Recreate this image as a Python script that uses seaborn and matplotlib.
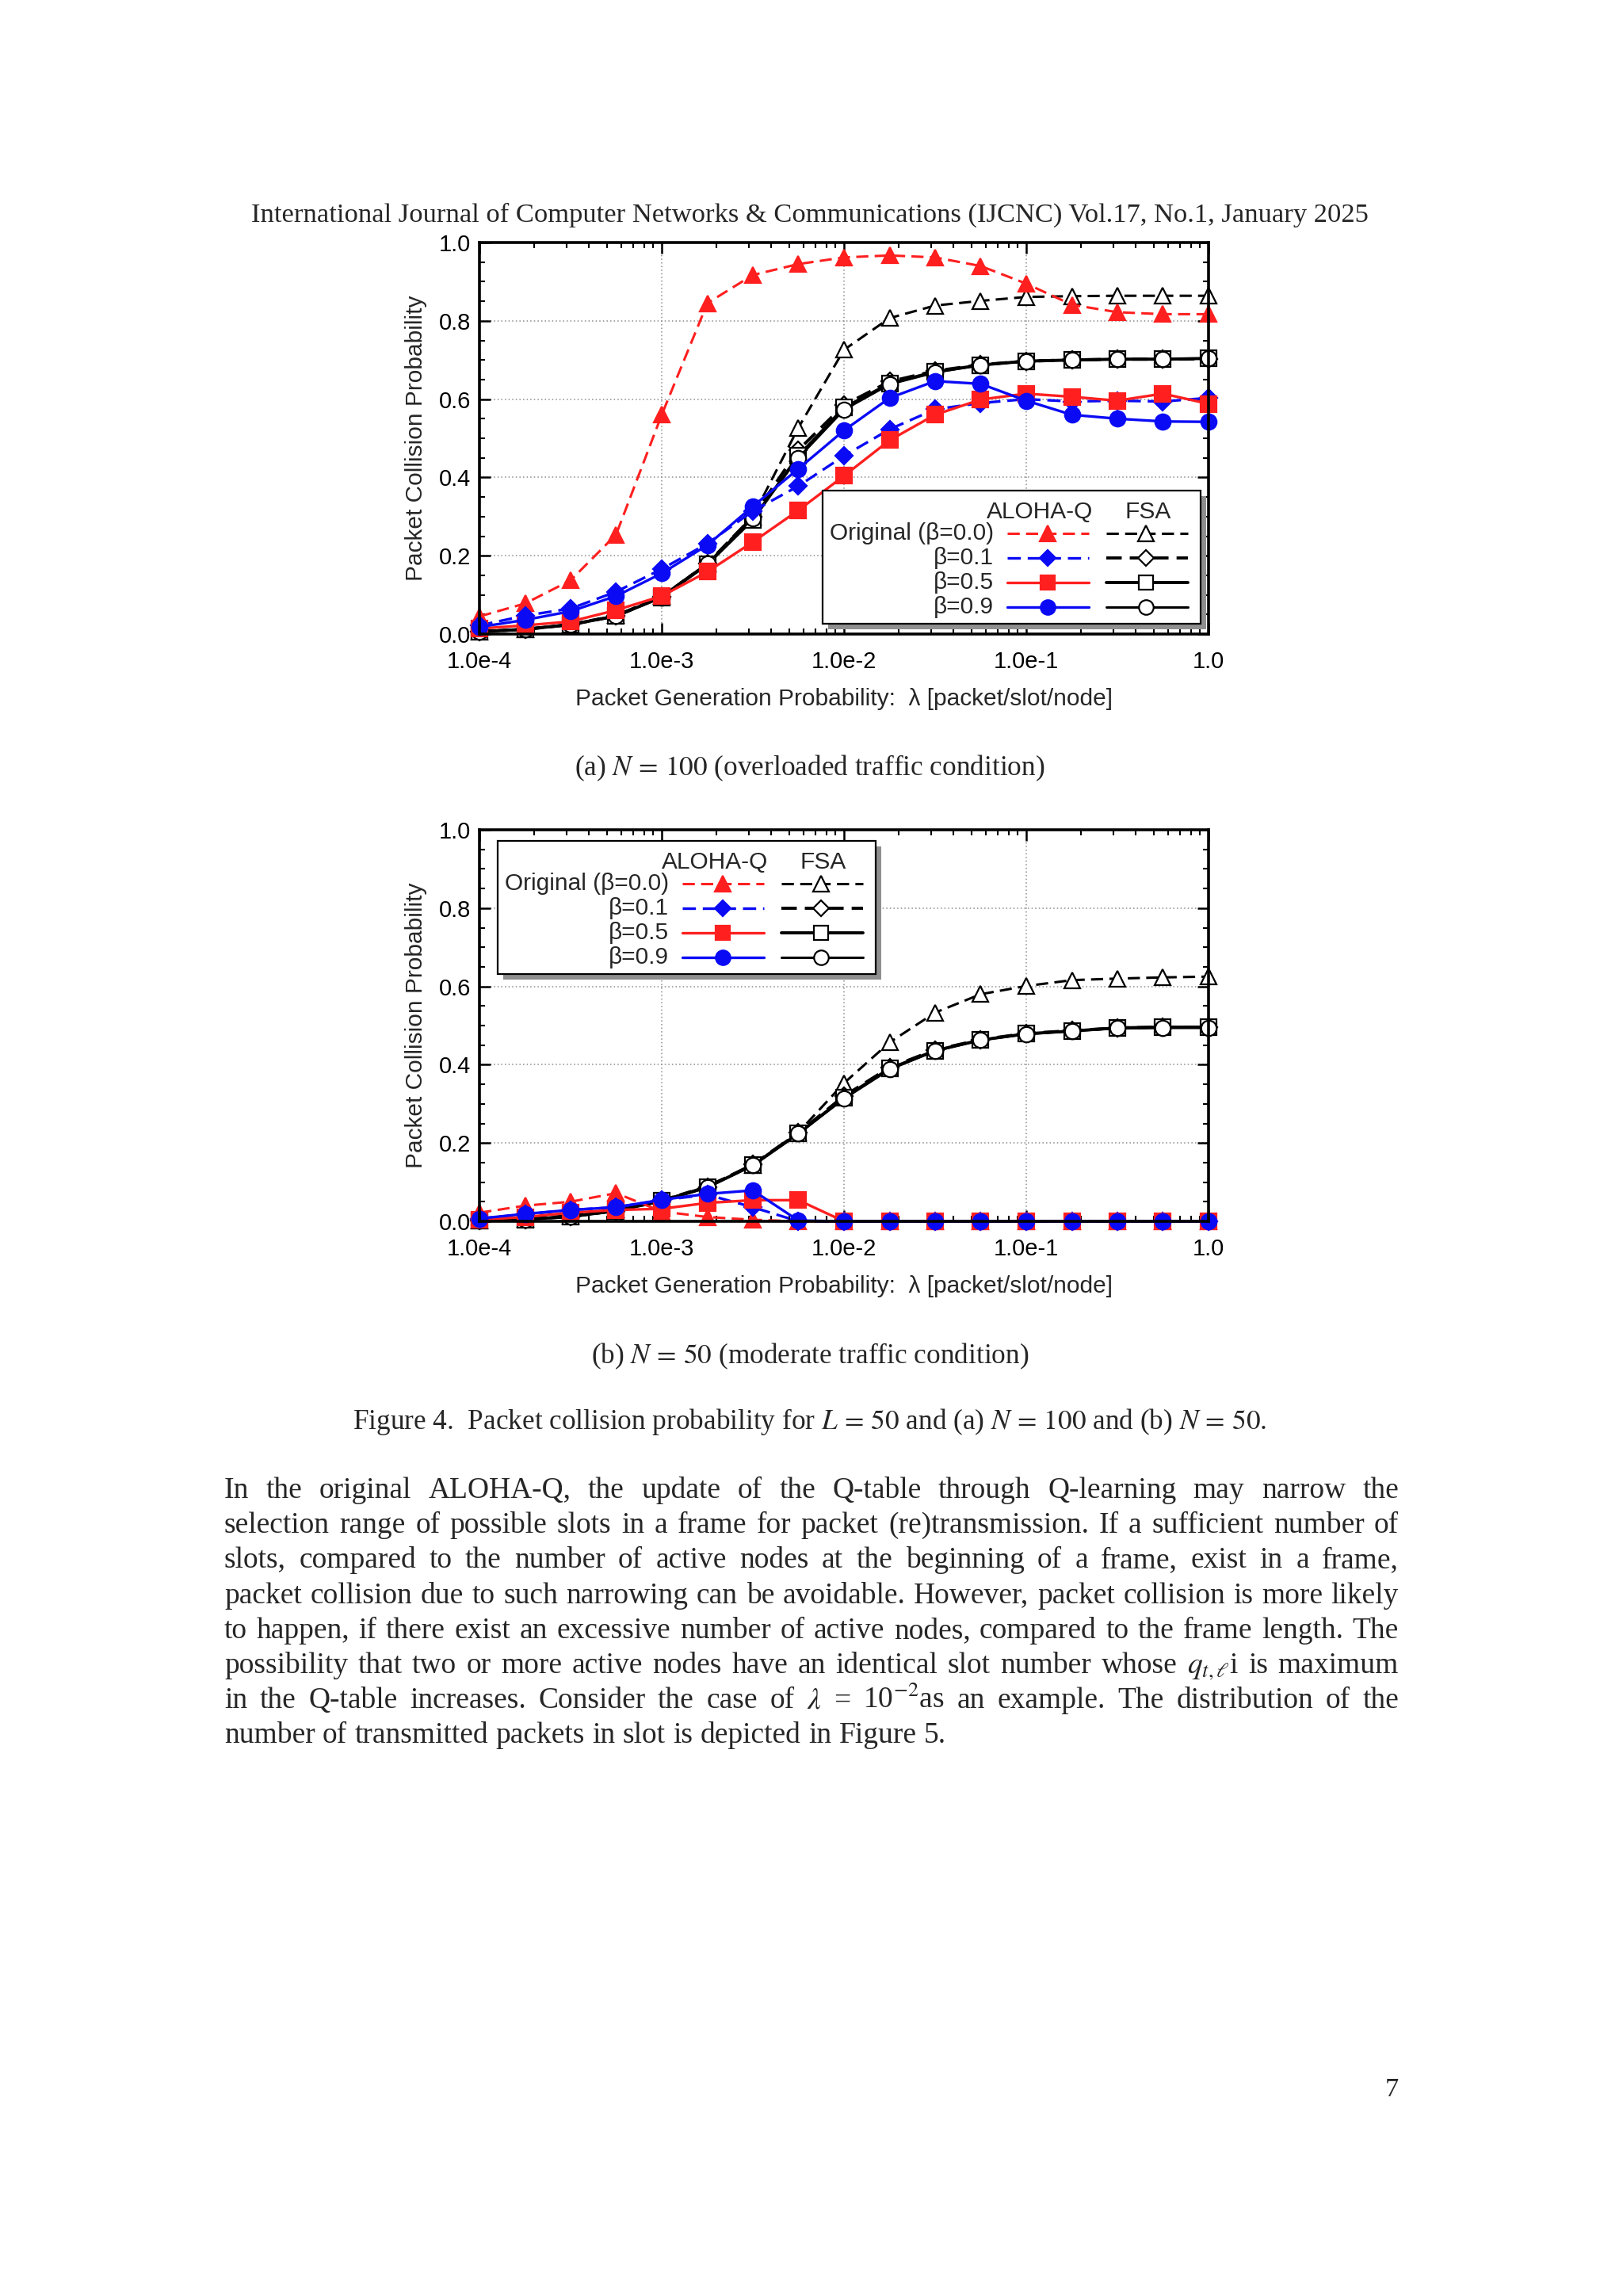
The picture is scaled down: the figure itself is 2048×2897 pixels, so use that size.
"""Packet collision probability page (IJCNC Fig. 4) rebuilt with seaborn."""
import matplotlib

matplotlib.use("Agg")
import matplotlib.pyplot as plt
import seaborn as sns
from matplotlib.lines import Line2D
from matplotlib.patches import Rectangle
from matplotlib.ticker import LogLocator, MultipleLocator, NullFormatter

W, H = 2048, 2897

# ---- data -----------------------------------------------------------------
LAMBDA = [1.0e-4, 1.78e-4, 3.16e-4, 5.62e-4, 1.0e-3, 1.78e-3, 3.16e-3, 5.62e-3,
          1.0e-2, 1.78e-2, 3.16e-2, 5.62e-2, 1.0e-1, 1.78e-1, 3.16e-1, 5.62e-1, 1.0]

X_TICKS = [1e-4, 1e-3, 1e-2, 1e-1, 1.0]
X_TICK_LABELS = ["1.0e-4", "1.0e-3", "1.0e-2", "1.0e-1", "1.0"]
Y_TICKS = [0.0, 0.2, 0.4, 0.6, 0.8, 1.0]
Y_TICK_LABELS = ["0.0", "0.2", "0.4", "0.6", "0.8", "1.0"]

# (a) N = 100
A_AQ_ORIG = [0.045, 0.078, 0.137, 0.254, 0.560, 0.845, 0.917, 0.945, 0.962,
             0.967, 0.962, 0.940, 0.895, 0.841, 0.822, 0.817, 0.817]
A_AQ_B01 = [0.022, 0.047, 0.065, 0.108, 0.166, 0.231, 0.314, 0.378, 0.455,
            0.523, 0.574, 0.590, 0.600, 0.594, 0.596, 0.594, 0.603]
A_AQ_B05 = [0.014, 0.022, 0.032, 0.061, 0.097, 0.159, 0.235, 0.316, 0.404,
            0.495, 0.560, 0.599, 0.614, 0.606, 0.596, 0.614, 0.588]
A_AQ_B09 = [0.018, 0.036, 0.058, 0.097, 0.155, 0.227, 0.326, 0.422, 0.520,
            0.603, 0.646, 0.639, 0.596, 0.560, 0.550, 0.543, 0.542]
A_FSA_ORIG = [0.007, 0.013, 0.025, 0.048, 0.097, 0.180, 0.300, 0.527, 0.726,
              0.807, 0.839, 0.851, 0.861, 0.863, 0.864, 0.864, 0.864]
A_FSA_B01 = [0.006, 0.012, 0.024, 0.046, 0.095, 0.180, 0.300, 0.470, 0.585,
             0.645, 0.672, 0.688, 0.697, 0.700, 0.702, 0.702, 0.703]
A_FSA_B05 = [0.006, 0.012, 0.024, 0.046, 0.094, 0.178, 0.292, 0.455, 0.578,
             0.640, 0.670, 0.687, 0.697, 0.700, 0.702, 0.702, 0.704]
A_FSA_B09 = [0.006, 0.012, 0.024, 0.046, 0.094, 0.180, 0.296, 0.450, 0.573,
             0.638, 0.668, 0.687, 0.697, 0.700, 0.702, 0.702, 0.704]

# (b) N = 50
B_AQ_ORIG = [0.022, 0.040, 0.050, 0.072, 0.025, 0.011, 0.004, 0.0, 0.0,
             0.0, 0.0, 0.0, 0.0, 0.0, 0.0, 0.0, 0.0]
B_AQ_B01 = [0.007, 0.018, 0.029, 0.036, 0.054, 0.068, 0.036, 0.0, 0.0,
            0.0, 0.0, 0.0, 0.0, 0.0, 0.0, 0.0, 0.0]
B_AQ_B05 = [0.004, 0.011, 0.022, 0.029, 0.032, 0.047, 0.054, 0.054, 0.0,
            0.0, 0.0, 0.0, 0.0, 0.0, 0.0, 0.0, 0.0]
B_AQ_B09 = [0.007, 0.019, 0.029, 0.036, 0.055, 0.070, 0.079, 0.002, 0.0,
            0.0, 0.0, 0.0, 0.0, 0.0, 0.0, 0.0, 0.0]
B_FSA_ORIG = [0.003, 0.007, 0.015, 0.030, 0.054, 0.090, 0.144, 0.227, 0.353,
              0.457, 0.533, 0.580, 0.601, 0.616, 0.620, 0.623, 0.625]
B_FSA_B01 = [0.002, 0.005, 0.012, 0.027, 0.052, 0.088, 0.145, 0.226, 0.320,
             0.393, 0.438, 0.464, 0.480, 0.487, 0.494, 0.496, 0.496]
B_FSA_B05 = [0.002, 0.005, 0.012, 0.027, 0.052, 0.087, 0.143, 0.224, 0.316,
             0.390, 0.436, 0.463, 0.479, 0.486, 0.494, 0.496, 0.496]
B_FSA_B09 = [0.002, 0.005, 0.012, 0.027, 0.052, 0.087, 0.143, 0.224, 0.313,
             0.388, 0.435, 0.463, 0.478, 0.486, 0.493, 0.494, 0.494]

SERIES_KEYS = ["fsa_orig", "fsa_b01", "fsa_b05", "fsa_b09",
               "aq_orig", "aq_b01", "aq_b05", "aq_b09"]
PANEL_A = dict(zip(SERIES_KEYS, [A_FSA_ORIG, A_FSA_B01, A_FSA_B05, A_FSA_B09,
                                 A_AQ_ORIG, A_AQ_B01, A_AQ_B05, A_AQ_B09]))
PANEL_B = dict(zip(SERIES_KEYS, [B_FSA_ORIG, B_FSA_B01, B_FSA_B05, B_FSA_B09,
                                 B_AQ_ORIG, B_AQ_B01, B_AQ_B05, B_AQ_B09]))

LEGEND_ROWS = ["Original (\u03b2=0.0)", "\u03b2=0.1", "\u03b2=0.5", "\u03b2=0.9"]

RED, BLUE, BLACK = "#ff1f1f", "#0a0af5", "#000000"
DASH = (0, (5, 2.6))
STYLES = {
    "fsa_orig": dict(color=BLACK, ls=DASH, lw=2.2, marker="^", mfc="white", ms=15),
    "fsa_b01": dict(color=BLACK, ls=DASH, lw=2.8, marker="D", mfc="white", ms=11),
    "fsa_b05": dict(color=BLACK, ls="-", lw=2.8, marker="s", mfc="white", ms=14),
    "fsa_b09": dict(color=BLACK, ls="-", lw=2.2, marker="o", mfc="white", ms=14),
    "aq_orig": dict(color=RED, ls=DASH, lw=2.2, marker="^", mfc=RED, ms=15),
    "aq_b01": dict(color=BLUE, ls=DASH, lw=2.4, marker="D", mfc=BLUE, ms=11),
    "aq_b05": dict(color=RED, ls="-", lw=2.4, marker="s", mfc=RED, ms=14),
    "aq_b09": dict(color=BLUE, ls="-", lw=2.4, marker="o", mfc=BLUE, ms=14),
}

SERIF = ["Liberation Serif", "DejaVu Serif"]
SANS = ["Liberation Sans", "DejaVu Sans"]
CHART_FONT = 21.5

sns.set_style("ticks")
plt.rcParams["font.family"] = SANS
plt.rcParams["mathtext.fontset"] = "stix"


def fx(x):
    return x / W


def fy(y):
    return 1 - y / H


def px_box(left, top, right, bottom):
    return [left / W, 1 - bottom / H, (right - left) / W, (bottom - top) / H]


def draw_panel(ax, panel):
    ax.set_xscale("log")
    for z, key in enumerate(SERIES_KEYS):
        st = STYLES[key]
        sns.lineplot(x=LAMBDA, y=panel[key], ax=ax, errorbar=None,
                     color=st["color"], linestyle=st["ls"], linewidth=st["lw"],
                     marker=st["marker"], markersize=st["ms"],
                     markerfacecolor=st["mfc"], markeredgecolor=st["color"],
                     markeredgewidth=1.6, clip_on=False, zorder=3 + z)
    ax.set_xlim(1e-4, 1.0)
    ax.set_ylim(0, 1)
    ax.set_xticks(X_TICKS, X_TICK_LABELS)
    ax.xaxis.set_minor_locator(LogLocator(base=10, subs=range(2, 10)))
    ax.xaxis.set_minor_formatter(NullFormatter())
    ax.set_yticks(Y_TICKS, Y_TICK_LABELS)
    ax.yaxis.set_minor_locator(MultipleLocator(0.05))
    ax.tick_params(which="both", direction="in", top=True, right=True, colors=BLACK)
    ax.tick_params(which="major", length=10, width=1.8, labelsize=21)
    ax.tick_params(which="minor", length=5, width=1.5)
    ax.tick_params(axis="x", which="major", pad=15)
    ax.tick_params(axis="y", which="major", pad=8)
    ax.grid(which="major", ls=(0, (1, 2)), color="#8c8c8c", lw=1.1)
    for sp in ax.spines.values():
        sp.set_linewidth(2.6)
        sp.set_color(BLACK)
        sp.set_zorder(20)
    ax.set_xlabel("Packet Generation Probability:  \u03bb [packet/slot/node]",
                  fontsize=CHART_FONT)
    ax.set_ylabel("Packet Collision Probability", fontsize=CHART_FONT)
    ax.xaxis.set_label_coords(0.5, -0.138)
    ax.yaxis.set_label_coords(-0.072, 0.5)


def draw_legend(fig, left, top):
    """Two-column IDL-style legend drawn in page pixels (left/top of the box)."""
    bw, bh = 477, 168
    fig.add_artist(Rectangle((fx(left + 7), fy(top + bh + 7)), bw / W, bh / H,
                             transform=fig.transFigure, facecolor="#8f8f8f",
                             edgecolor="none", zorder=30))
    fig.add_artist(Rectangle((fx(left), fy(top + bh)), bw / W, bh / H,
                             transform=fig.transFigure, facecolor="white",
                             edgecolor=BLACK, linewidth=1.6, zorder=31))
    kw = dict(fontsize=CHART_FONT, family=SANS, zorder=33, transform=fig.transFigure)
    fig.text(fx(left + 274), fy(top + 27), "ALOHA-Q", ha="center", va="center", **kw)
    fig.text(fx(left + 411), fy(top + 27), "FSA", ha="center", va="center", **kw)
    rows = [54, 85, 116, 147]
    aq = ["aq_orig", "aq_b01", "aq_b05", "aq_b09"]
    fsa = ["fsa_orig", "fsa_b01", "fsa_b05", "fsa_b09"]
    for dy, label, ka, kf in zip(rows, LEGEND_ROWS, aq, fsa):
        fig.text(fx(left + 216), fy(top + dy), label, ha="right", va="center", **kw)
        for key, x0, x1, xm in ((ka, 233, 336, 284), (kf, 358, 461, 408)):
            st = STYLES[key]
            fig.add_artist(Line2D([fx(left + x0), fx(left + x1)], [fy(top + dy)] * 2,
                                  transform=fig.transFigure, color=st["color"],
                                  linestyle=st["ls"], linewidth=st["lw"], zorder=32))
            fig.add_artist(Line2D([fx(left + xm)], [fy(top + dy)],
                                  transform=fig.transFigure, marker=st["marker"],
                                  markersize=st["ms"] * 0.95, markerfacecolor=st["mfc"],
                                  markeredgecolor=st["color"], markeredgewidth=1.6,
                                  linestyle="none", zorder=33))


def justified(fig, renderer, text, y, left, right, size, justify=True):
    words = text.split(" ")
    arts = [fig.text(0, fy(y), w, fontsize=size, family=SERIF, va="baseline")
            for w in words]
    widths = [a.get_window_extent(renderer).width for a in arts]
    if justify and len(words) > 1:
        gap = (right - left - sum(widths)) / (len(words) - 1)
    else:
        gap = size * 100 / 72 * 0.25
    x = left
    for a, w in zip(arts, widths):
        a.set_x(fx(x))
        x += w + gap


fig = plt.figure(figsize=(W / 100, H / 100), dpi=100)
fig.patch.set_facecolor("white")

ax_a = fig.add_axes(px_box(605, 306, 1525, 800))
ax_b = fig.add_axes(px_box(605, 1047, 1525, 1541))
draw_panel(ax_a, PANEL_A)
draw_panel(ax_b, PANEL_B)
draw_legend(fig, 1038, 619)
draw_legend(fig, 628, 1061)

# ---- page text ---------------------------------------------------------------
head, cap, body = 24.8, 25.4, 27
fig.text(fx(1022), fy(280), "International Journal of Computer Networks & Communications "
         "(IJCNC) Vol.17, No.1, January 2025", ha="center", va="baseline",
         fontsize=head, family=SERIF)
fig.text(fx(1022), fy(978), r"(a) $N\,=\,100$ (overloaded traffic condition)",
         ha="center", va="baseline", fontsize=cap, family=SERIF)
fig.text(fx(1022), fy(1720), r"(b) $N\,=\,50$ (moderate traffic condition)",
         ha="center", va="baseline", fontsize=cap, family=SERIF)
fig.text(fx(1022), fy(1803), r"Figure 4.  Packet collision probability for $L\,=\,50$ and "
         r"(a) $N\,=\,100$ and (b) $N\,=\,50$.", ha="center", va="baseline",
         fontsize=cap, family=SERIF)
fig.text(fx(1765), fy(2645), "7", ha="right", va="baseline", fontsize=head, family=SERIF)

PARAGRAPH = [
    "In the original ALOHA-Q, the update of the Q-table through Q-learning may narrow the",
    "selection range of possible slots in a frame for packet (re)transmission. If a sufficient number of",
    "slots, compared to the number of active nodes at the beginning of a frame, exist in a frame,",
    "packet collision due to such narrowing can be avoidable. However, packet collision is more likely",
    "to happen, if there exist an excessive number of active nodes, compared to the frame length. The",
    r"possibility that two or more active nodes have an identical slot number whose $q_{t,\ell}$i is maximum",
    r"in the Q-table increases. Consider the case of $\lambda$ = 10$^{-2}$as an example. The distribution of the",
    "number of transmitted packets in slot is depicted in Figure 5.",
]
renderer = fig.canvas.get_renderer()
for i, line in enumerate(PARAGRAPH):
    justified(fig, renderer, line, 1890 + i * 44.2, 283, 1765, body,
              justify=i < len(PARAGRAPH) - 1)

fig.savefig("out.png", dpi=100, facecolor="white")
plt.close(fig)
